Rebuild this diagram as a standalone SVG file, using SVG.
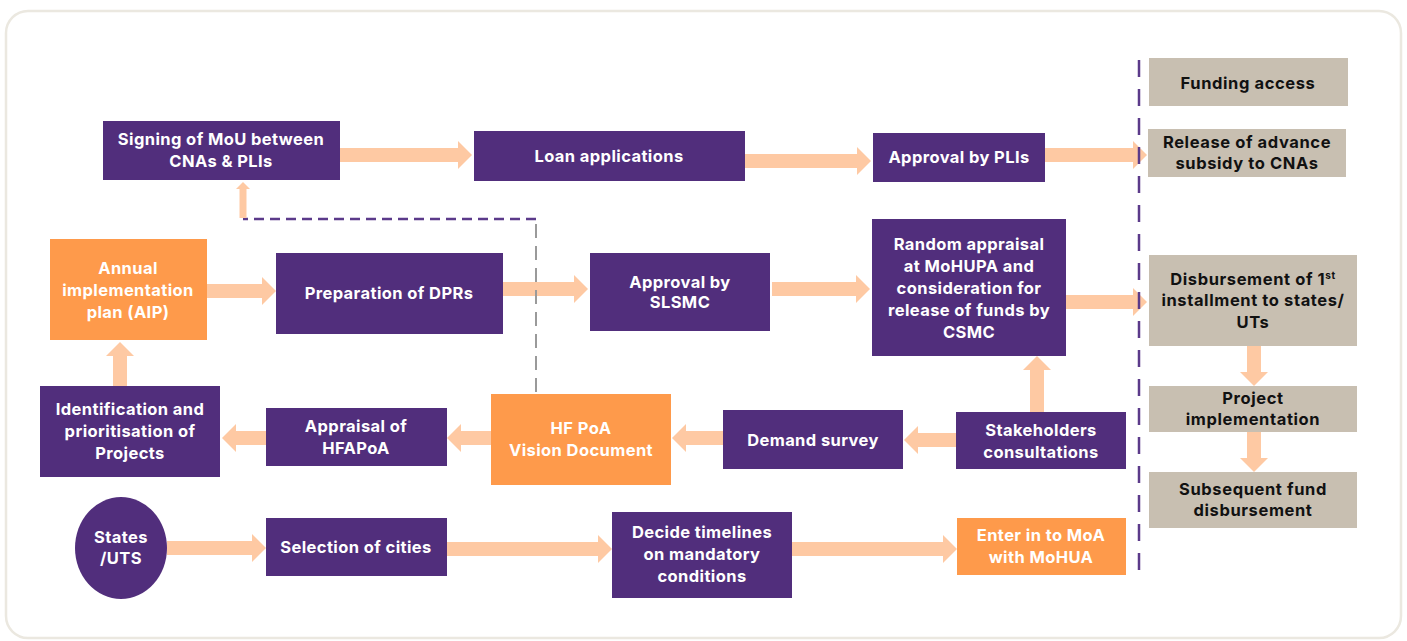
<svg xmlns="http://www.w3.org/2000/svg" width="1407" height="641" viewBox="0 0 1407 641">
  <style>
    .p { fill: #512e7c; }
    .o { fill: #fe9a4b; }
    .g { fill: #c8bfb1; }
    .t { font-family: Inter, "Noto Sans", "Liberation Sans", sans-serif; font-weight: 700; font-size: 16.5px; fill: #ffffff; text-anchor: middle; letter-spacing: 0.4px; }
    .k { font-family: Inter, "Noto Sans", "Liberation Sans", sans-serif; font-weight: 700; font-size: 16.5px; fill: #111111; text-anchor: middle; letter-spacing: 0.6px; }
    .flow { fill: none; stroke: #fec9a3; stroke-width: 14; marker-end: url(#head); }
  </style>
  <defs>
    <marker id="head" viewBox="0 0 10 20" refX="0" refY="10" markerWidth="1" markerHeight="2" orient="auto" markerUnits="strokeWidth">
      <path d="M0,0 L10,10 L0,20 Z" fill="#fec9a3"/>
    </marker>
  </defs>

  <!-- frame -->
  <rect x="6" y="11" width="1395" height="627" rx="22" fill="#ffffff" stroke="#ebe8e0" stroke-width="2.5"/>

  <!-- connectors -->
  <g id="connectors">
    <path class="flow" d="M340,155 L458,155"/>
    <path class="flow" d="M745,161 L857,161"/>
    <path class="flow" d="M1045,155 L1133,155"/>
    <path class="flow" d="M207,291 L262,291"/>
    <path class="flow" d="M503,289 L574,289"/>
    <path class="flow" d="M772,289 L856,289"/>
    <path class="flow" d="M1066,302 L1133,302"/>
    <path class="flow" d="M1254,346 L1254,372"/>
    <path class="flow" d="M1254,432 L1254,458"/>
    <path class="flow" d="M120,386 L120,356"/>
    <path class="flow" d="M266,438 L236,438"/>
    <path class="flow" d="M491,438 L461,438"/>
    <path class="flow" d="M723,438 L686,438"/>
    <path class="flow" d="M956,440 L918,440"/>
    <path class="flow" d="M1037,412 L1037,370"/>
    <path class="flow" d="M167,548 L252,548"/>
    <path class="flow" d="M447,549 L598,549"/>
    <path class="flow" d="M792,549 L943,549"/>
    <!-- dashed feedback from the vision document to the MoU -->
    <path d="M536,392 L536,219" fill="none" stroke="#9a9a9a" stroke-width="2" stroke-dasharray="14,8"/>
    <path d="M536,219 L243,219" fill="none" stroke="#5b3a8a" stroke-width="2.5" stroke-dasharray="10,6"/>
    <path class="flow" d="M243,218 L243,189" style="stroke-width:7"/>
    <!-- divider before the funding column -->
    <path d="M1139,60 L1139,577" fill="none" stroke="#5b3a8a" stroke-width="2.5" stroke-dasharray="17,12"/>
  </g>

  <g id="mou">
    <rect class="p" x="103" y="121" width="237" height="59"/>
    <text class="t" x="221" y="145">Signing of MoU between</text>
    <text class="t" x="221" y="167">CNAs &amp; PLIs</text>
  </g>
  <g id="loan">
    <rect class="p" x="474" y="131" width="271" height="50"/>
    <text class="t" x="609" y="162">Loan applications</text>
  </g>
  <g id="pli-approval">
    <rect class="p" x="873" y="133" width="172" height="49"/>
    <text class="t" x="959" y="163">Approval by PLIs</text>
  </g>
  <g id="funding-access">
    <rect class="g" x="1149" y="58" width="199" height="48"/>
    <text class="k" x="1248" y="89">Funding access</text>
  </g>
  <g id="advance-subsidy">
    <rect class="g" x="1148" y="129" width="198" height="48"/>
    <text class="k" x="1247" y="148">Release of advance</text>
    <text class="k" x="1247" y="169">subsidy to CNAs</text>
  </g>
  <g id="aip">
    <rect class="o" x="50" y="239" width="157" height="101"/>
    <text class="t" x="128" y="274">Annual</text>
    <text class="t" x="128" y="296">implementation</text>
    <text class="t" x="128" y="318">plan (AIP)</text>
  </g>
  <g id="dprs">
    <rect class="p" x="276" y="253" width="227" height="81"/>
    <text class="t" x="389" y="299">Preparation of DPRs</text>
  </g>
  <g id="slsmc">
    <rect class="p" x="590" y="253" width="180" height="78"/>
    <text class="t" x="680" y="288">Approval by</text>
    <text class="t" x="680" y="308">SLSMC</text>
  </g>
  <g id="csmc">
    <rect class="p" x="872" y="219" width="194" height="137"/>
    <text class="t" x="969" y="250">Random appraisal</text>
    <text class="t" x="969" y="272">at MoHUPA and</text>
    <text class="t" x="969" y="294">consideration for</text>
    <text class="t" x="969" y="316">release of funds by</text>
    <text class="t" x="969" y="338">CSMC</text>
  </g>
  <g id="first-installment">
    <rect class="g" x="1149" y="255" width="208" height="91"/>
    <text class="k" x="1253" y="285">Disbursement of 1<tspan font-size="10" dy="-6">st</tspan></text>
    <text class="k" x="1253" y="306">installment to states/</text>
    <text class="k" x="1253" y="328">UTs</text>
  </g>
  <g id="implementation">
    <rect class="g" x="1149" y="386" width="208" height="46"/>
    <text class="k" x="1253" y="404">Project</text>
    <text class="k" x="1253" y="425">implementation</text>
  </g>
  <g id="subsequent">
    <rect class="g" x="1149" y="472" width="208" height="56"/>
    <text class="k" x="1253" y="495">Subsequent fund</text>
    <text class="k" x="1253" y="516">disbursement</text>
  </g>
  <g id="identification">
    <rect class="p" x="40" y="386" width="180" height="91"/>
    <text class="t" x="130" y="415">Identification and</text>
    <text class="t" x="130" y="437">prioritisation of</text>
    <text class="t" x="130" y="459">Projects</text>
  </g>
  <g id="hfapoa">
    <rect class="p" x="266" y="408" width="181" height="58"/>
    <text class="t" x="356" y="432">Appraisal of</text>
    <text class="t" x="356" y="454">HFAPoA</text>
  </g>
  <g id="vision">
    <rect class="o" x="491" y="394" width="180" height="91"/>
    <text class="t" x="581" y="434">HF PoA</text>
    <text class="t" x="581" y="456">Vision Document</text>
  </g>
  <g id="demand">
    <rect class="p" x="723" y="410" width="180" height="59"/>
    <text class="t" x="813" y="446">Demand survey</text>
  </g>
  <g id="stakeholders">
    <rect class="p" x="956" y="412" width="170" height="57"/>
    <text class="t" x="1041" y="436">Stakeholders</text>
    <text class="t" x="1041" y="458">consultations</text>
  </g>
  <g id="states">
    <ellipse class="p" cx="121" cy="548" rx="46" ry="51"/>
    <text class="t" x="121" y="543">States</text>
    <text class="t" x="121" y="564">/UTS</text>
  </g>
  <g id="cities">
    <rect class="p" x="266" y="518" width="181" height="58"/>
    <text class="t" x="356" y="553">Selection of cities</text>
  </g>
  <g id="timelines">
    <rect class="p" x="612" y="512" width="180" height="86"/>
    <text class="t" x="702" y="538">Decide timelines</text>
    <text class="t" x="702" y="560">on mandatory</text>
    <text class="t" x="702" y="582">conditions</text>
  </g>
  <g id="moa">
    <rect class="o" x="957" y="518" width="169" height="57"/>
    <text class="t" x="1041" y="541">Enter in to MoA</text>
    <text class="t" x="1041" y="563">with MoHUA</text>
  </g>
</svg>
